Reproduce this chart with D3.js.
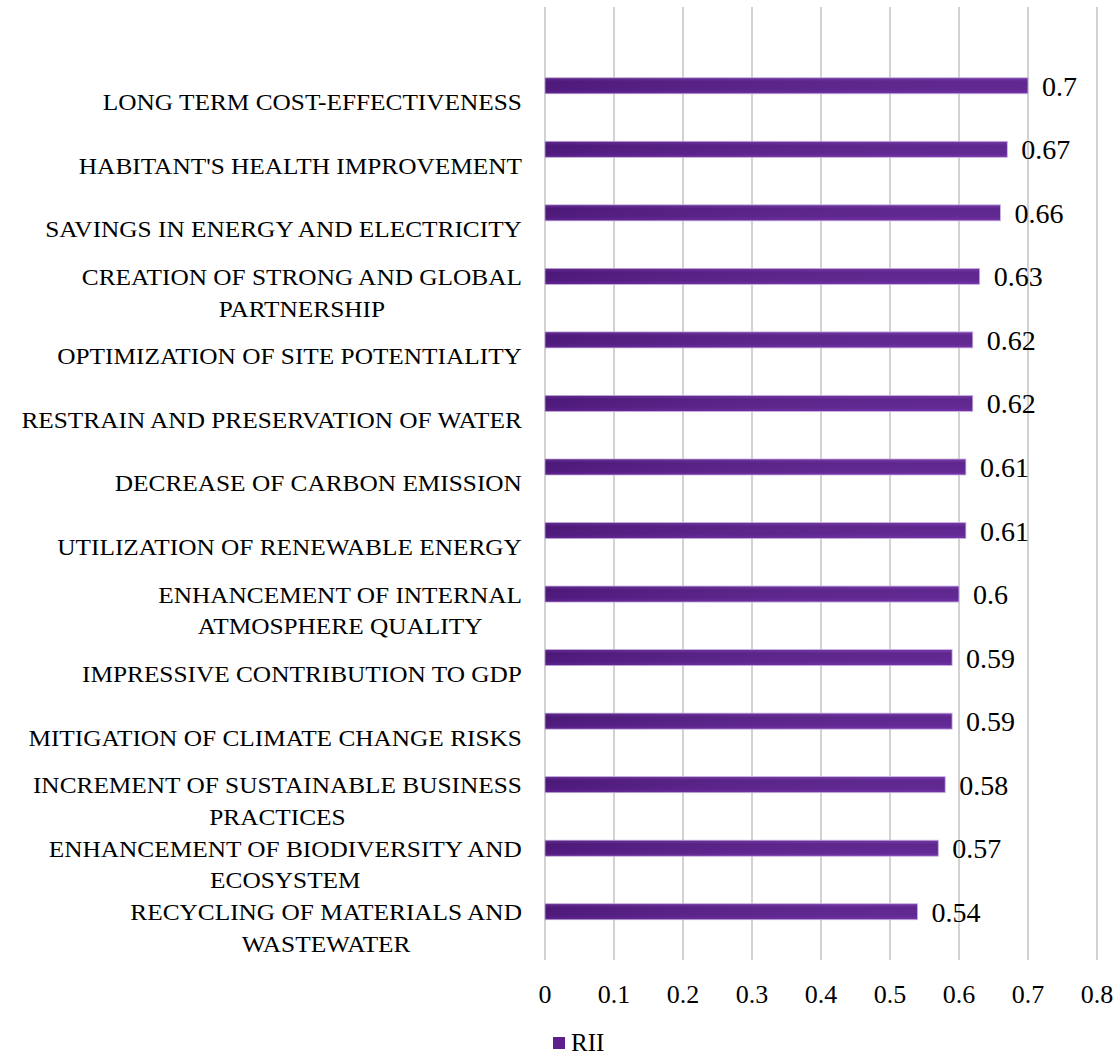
<!DOCTYPE html>
<head>
	<meta charset="utf-8" />
	<style>
		body {
			margin: 0;
			background-color: #fff;
			overflow: hidden;
		}
		text {
			font-family: 'Liberation Serif', 'Times New Roman', serif;
			fill: #000;
		}
	</style>
</head>
<body>
	<div id="chart-area"></div>
	<script src="https://cdnjs.cloudflare.com/ajax/libs/d3/7.8.5/d3.min.js"></script>
	<script>
		// top to bottom, as in the picture
		const categories = [
			['LONG TERM COST-EFFECTIVENESS'],
			["HABITANT'S HEALTH IMPROVEMENT"],
			['SAVINGS IN ENERGY AND ELECTRICITY'],
			['CREATION OF STRONG AND GLOBAL', 'PARTNERSHIP'],
			['OPTIMIZATION OF SITE POTENTIALITY'],
			['RESTRAIN AND PRESERVATION OF WATER'],
			['DECREASE OF CARBON EMISSION'],
			['UTILIZATION OF RENEWABLE ENERGY'],
			['ENHANCEMENT OF INTERNAL', 'ATMOSPHERE QUALITY'],
			['IMPRESSIVE CONTRIBUTION TO GDP'],
			['MITIGATION OF CLIMATE CHANGE RISKS'],
			['INCREMENT OF SUSTAINABLE BUSINESS', 'PRACTICES'],
			['ENHANCEMENT OF BIODIVERSITY AND', 'ECOSYSTEM'],
			['RECYCLING OF MATERIALS AND', 'WASTEWATER'],
		];
		const rii = [0.7, 0.67, 0.66, 0.63, 0.62, 0.62, 0.61, 0.61, 0.6, 0.59, 0.59, 0.58, 0.57, 0.54];
		const xTicks = [0, 0.1, 0.2, 0.3, 0.4, 0.5, 0.6, 0.7, 0.8];
		const seriesName = 'RII';

		const width = 1117,
			height = 1057;
		const plot = { left: 545, right: 1097, top: 7, bandTop: 70.5, bottom: 960 };

		const svg = d3
			.select('#chart-area')
			.append('svg')
			.attr('width', width)
			.attr('height', height);

		const defs = svg.append('defs');
		const grad = defs
			.append('linearGradient')
			.attr('id', 'barGrad')
			.attr('x1', 0)
			.attr('x2', 0)
			.attr('y1', 0)
			.attr('y2', 1);
		grad.append('stop').attr('offset', '0%').attr('stop-color', '#7030a6');
		grad.append('stop').attr('offset', '25%').attr('stop-color', '#561c88');
		grad.append('stop').attr('offset', '75%').attr('stop-color', '#5a1e8e');
		grad.append('stop').attr('offset', '100%').attr('stop-color', '#6e28a6');
		const gradH = defs
			.append('linearGradient')
			.attr('id', 'barShade')
			.attr('x1', 0)
			.attr('x2', 1);
		gradH.append('stop').attr('offset', '0%').attr('stop-color', '#000').attr('stop-opacity', 0.12);
		gradH.append('stop').attr('offset', '100%').attr('stop-color', '#fff').attr('stop-opacity', 0.05);

		const x = d3.scaleLinear().domain([0, 0.8]).range([plot.left, plot.right]);
		const y = d3
			.scaleBand()
			.domain(d3.range(categories.length))
			.range([plot.bandTop, plot.bottom]);

		// vertical gridlines
		svg.append('g')
			.selectAll('line')
			.data(xTicks)
			.join('line')
			.attr('x1', d => x(d))
			.attr('x2', d => x(d))
			.attr('y1', plot.top)
			.attr('y2', plot.bottom)
			.attr('stroke', '#c3c3c3')
			.attr('stroke-width', 1.5);

		// tick labels
		svg.append('g')
			.selectAll('text')
			.data(xTicks)
			.join('text')
			.attr('x', d => x(d))
			.attr('y', 1003)
			.attr('text-anchor', 'middle')
			.style('font-size', '26px')
			.text(d => d3.format('~g')(d));

		const barOffset = -24.5,
			barH = 16;
		const barMid = i => y(i) + y.bandwidth() / 2 + barOffset + barH / 2;

		const bars = svg.append('g')
			.selectAll('g')
			.data(rii)
			.join('g');

		bars.append('rect')
			.attr('x', x(0))
			.attr('y', (d, i) => barMid(i) - barH / 2)
			.attr('width', d => x(d) - x(0))
			.attr('height', barH)
			.attr('fill', 'url(#barGrad)')
			.attr('stroke', '#c9b3e0')
			.attr('stroke-width', 0.8);
		bars.append('rect')
			.attr('x', x(0))
			.attr('y', (d, i) => barMid(i) - barH / 2)
			.attr('width', d => x(d) - x(0))
			.attr('height', barH)
			.attr('fill', 'url(#barShade)');

		// value labels
		svg.append('g')
			.selectAll('text')
			.data(rii)
			.join('text')
			.attr('x', d => x(d) + 14)
			.attr('y', (d, i) => barMid(i) + 10)
			.style('font-size', '28px')
			.text(d => d);

		// category labels, each line centred, block right-aligned at 522
		const labelRight = 522,
			stretch = 1.055,
			lh = 31.6;
		const labels = svg.append('g')
			.selectAll('text')
			.data(categories)
			.join('text')
			.attr('text-anchor', 'middle')
			.style('font-size', '24px');

		labels.each(function (lines, i) {
			const t = d3.select(this);
			const cy = barMid(i) + 16.5;
			const firstBase = cy + 8 - ((lines.length - 1) * lh) / 2;
			lines.forEach((ln, j) => {
				t.append('tspan')
					.attr('x', 0)
					.attr('y', j * lh)
					.text(ln);
			});
			const w = d3.max(t.selectAll('tspan').nodes(), n => n.getComputedTextLength()) * stretch;
			t.attr('transform', `translate(${labelRight - w / 2},${firstBase}) scale(${stretch},1)`);
		});

		// legend
		const legend = svg.append('g');
		legend.append('rect')
			.attr('x', 553)
			.attr('y', 1037)
			.attr('width', 12)
			.attr('height', 12)
			.attr('fill', '#5c1f8c');
		legend.append('text')
			.attr('x', 571)
			.attr('y', 1051)
			.style('font-size', '25px')
			.text(seriesName);
	</script>
</body>
